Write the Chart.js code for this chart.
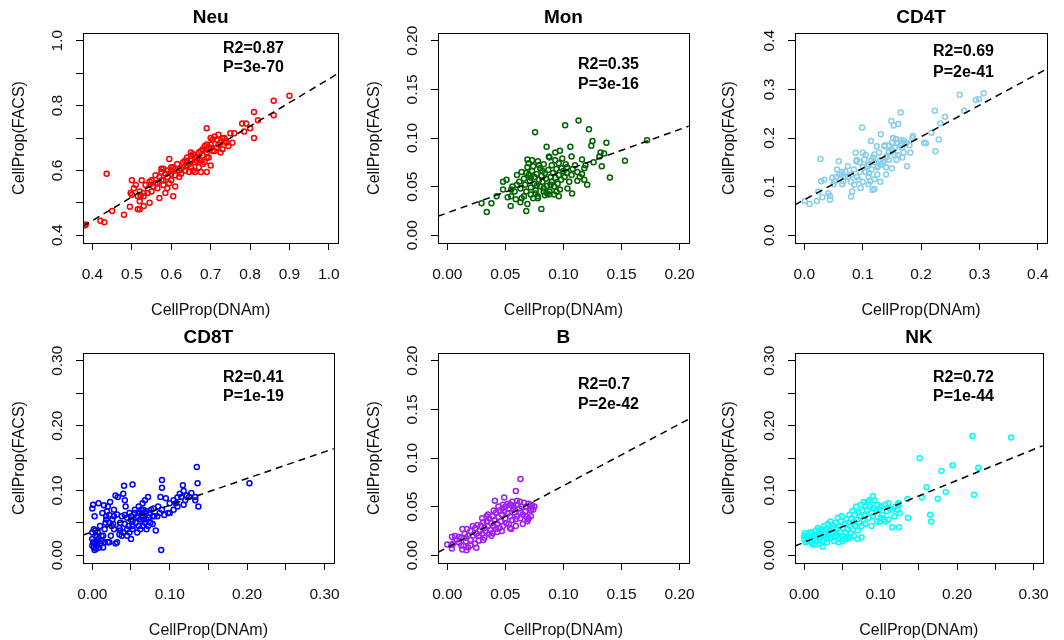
<!DOCTYPE html>
<html>
<head>
<meta charset="utf-8">
<script src="https://cdn.jsdelivr.net/npm/chart.js@4.4.1/dist/chart.umd.min.js"></script>
<style>
  html, body { margin: 0; padding: 0; background: #fff; }
  #grid { position: relative; width: 1064px; height: 640px; }
  #grid canvas { position: absolute; }
</style>
</head>
<body>
<div id="grid"></div>
<script>
// ---- Data ----
const panelTitles = ['Neu', 'Mon', 'CD4T', 'CD8T', 'B', 'NK'];
const r2Labels = ['R2=0.87', 'R2=0.35', 'R2=0.69', 'R2=0.41', 'R2=0.7', 'R2=0.72'];
const pLabels = ['P=3e-70', 'P=3e-16', 'P=2e-41', 'P=1e-19', 'P=2e-42', 'P=1e-44'];

// regression lines [intercept, slope]
const fitLines = [[0.154, 0.728], [0.023, 0.429], [0.073, 0.648], [0.036, 0.412], [0.008, 0.635], [0.020, 0.4775]];

// axis ticks and labels
const neuTicks = [0.4, 0.5, 0.6, 0.7, 0.8, 0.9, 1.0];
const neuXLabels = ['0.4', '0.5', '0.6', '0.7', '0.8', '0.9', '1.0'];
const neuYLabels = ['0.4', '', '0.6', '', '0.8', '', '1.0'];
const smallTicks = [0, 0.05, 0.10, 0.15, 0.20];
const smallLabels = ['0.00', '0.05', '0.10', '0.15', '0.20'];
const cd4Ticks = [0, 0.1, 0.2, 0.3, 0.4];
const cd4Labels = ['0.0', '0.1', '0.2', '0.3', '0.4'];
const wideTicks = [0, 0.05, 0.10, 0.15, 0.20, 0.25, 0.30];
const wideLabels = ['0.00', '', '0.10', '', '0.20', '', '0.30'];

// CellProp(DNAm), CellProp(FACS)
const neuPoints = [[0.38,0.43],[0.383,0.433],[0.42,0.445],[0.43,0.44],[0.436,0.59],[0.45,0.475],[0.48,0.463],[0.495,0.488],[0.497,0.53],[0.50,0.525],[0.50,0.57],[0.505,0.545],[0.51,0.555],[0.515,0.52],[0.515,0.48],[0.52,0.48],[0.52,0.535],[0.522,0.52],[0.525,0.57],[0.53,0.53],[0.53,0.49],[0.535,0.555],[0.54,0.53],[0.545,0.565],[0.545,0.50],[0.55,0.57],[0.555,0.55],[0.56,0.56],[0.565,0.545],[0.57,0.58],[0.57,0.515],[0.575,0.605],[0.575,0.57],[0.58,0.605],[0.58,0.555],[0.585,0.59],[0.585,0.53],[0.59,0.58],[0.59,0.545],[0.595,0.635],[0.595,0.56],[0.60,0.60],[0.60,0.57],[0.605,0.52],[0.605,0.61],[0.61,0.585],[0.61,0.55],[0.615,0.62],[0.62,0.60],[0.62,0.58],[0.625,0.59],[0.63,0.625],[0.635,0.63],[0.635,0.60],[0.64,0.615],[0.64,0.64],[0.645,0.595],[0.645,0.62],[0.65,0.645],[0.65,0.63],[0.655,0.60],[0.655,0.65],[0.66,0.625],[0.66,0.595],[0.665,0.64],[0.67,0.61],[0.67,0.655],[0.675,0.63],[0.675,0.595],[0.68,0.645],[0.68,0.665],[0.685,0.625],[0.685,0.675],[0.69,0.655],[0.69,0.595],[0.69,0.73],[0.695,0.67],[0.695,0.64],[0.70,0.68],[0.70,0.615],[0.705,0.66],[0.705,0.695],[0.71,0.705],[0.715,0.67],[0.72,0.71],[0.72,0.68],[0.725,0.655],[0.73,0.70],[0.73,0.665],[0.735,0.69],[0.74,0.685],[0.745,0.675],[0.75,0.715],[0.755,0.685],[0.76,0.715],[0.78,0.745],[0.785,0.72],[0.79,0.745],[0.80,0.73],[0.81,0.70],[0.81,0.78],[0.82,0.755],[0.86,0.815],[0.86,0.77],[0.90,0.83],[0.56,0.585],[0.565,0.56],[0.60,0.59],[0.61,0.605],[0.625,0.605],[0.64,0.63],[0.65,0.61],[0.66,0.64],[0.67,0.635],[0.68,0.62],[0.69,0.665],[0.69,0.68],[0.70,0.67],[0.715,0.695],[0.725,0.685],[0.735,0.70],[0.58,0.57],[0.59,0.60],[0.60,0.61],[0.55,0.535],[0.53,0.52],[0.52,0.505],[0.545,0.555],[0.575,0.595],[0.63,0.61],[0.65,0.655],[0.665,0.63],[0.69,0.64],[0.71,0.66],[0.70,0.70],[0.675,0.66]];

const monPoints = [[0.113,0.118],[0.1015,0.113],[0.122,0.109],[0.0756,0.106],[0.125,0.097],[0.124,0.092],[0.137,0.095],[0.172,0.0976],[0.106,0.091],[0.0855,0.091],[0.153,0.0765],[0.140,0.0595],[0.1205,0.052],[0.081,0.027],[0.068,0.025],[0.034,0.024],[0.0295,0.033],[0.038,0.033],[0.0425,0.040],[0.048,0.055],[0.051,0.057],[0.0546,0.030],[0.048,0.047],[0.052,0.039],[0.055,0.040],[0.059,0.037],[0.063,0.034],[0.069,0.032],[0.132,0.085],[0.131,0.081],[0.135,0.084],[0.133,0.071],[0.126,0.075],[0.119,0.072],[0.116,0.078],[0.107,0.081],[0.097,0.087],[0.093,0.085],[0.0875,0.081],[0.107,0.062],[0.103,0.064],[0.0985,0.069],[0.1035,0.048],[0.1075,0.043],[0.118,0.057],[0.112,0.056],[0.096,0.040],[0.092,0.042],[0.0877,0.042],[0.083,0.045],[0.078,0.040],[0.078,0.038],[0.060,0.062],[0.062,0.055],[0.063,0.048],[0.064,0.065],[0.066,0.058],[0.067,0.052],[0.068,0.045],[0.069,0.078],[0.070,0.074],[0.070,0.062],[0.071,0.056],[0.072,0.049],[0.072,0.042],[0.073,0.066],[0.074,0.071],[0.075,0.060],[0.075,0.053],[0.076,0.046],[0.077,0.063],[0.078,0.076],[0.079,0.057],[0.080,0.050],[0.080,0.069],[0.081,0.061],[0.082,0.055],[0.083,0.073],[0.084,0.064],[0.085,0.058],[0.086,0.051],[0.087,0.067],[0.088,0.045],[0.089,0.060],[0.090,0.055],[0.090,0.072],[0.091,0.064],[0.092,0.050],[0.093,0.059],[0.094,0.068],[0.095,0.053],[0.096,0.062],[0.097,0.047],[0.098,0.057],[0.100,0.066],[0.101,0.060],[0.103,0.070],[0.105,0.055],[0.108,0.068],[0.110,0.072],[0.112,0.065],[0.114,0.060],[0.116,0.063],[0.118,0.069],[0.066,0.040],[0.064,0.038],[0.058,0.045],[0.056,0.050],[0.055,0.047],[0.074,0.038],[0.086,0.043],[0.094,0.045],[0.060,0.052],[0.069,0.070],[0.077,0.051],[0.083,0.048],[0.089,0.052],[0.072,0.059],[0.068,0.064],[0.082,0.066],[0.096,0.074],[0.099,0.079],[0.102,0.073],[0.093,0.077],[0.088,0.080],[0.079,0.072],[0.073,0.077],[0.076,0.043],[0.084,0.041]];

const cd4Points = [[0.001,0.0706],[0.009,0.064],[0.0215,0.0706],[0.024,0.090],[0.0276,0.157],[0.031,0.078],[0.029,0.111],[0.034,0.114],[0.041,0.0865],[0.044,0.073],[0.0436,0.081],[0.048,0.118],[0.052,0.111],[0.056,0.135],[0.059,0.152],[0.0645,0.1246],[0.067,0.111],[0.070,0.131],[0.0745,0.142],[0.080,0.0796],[0.082,0.090],[0.0855,0.104],[0.088,0.1695],[0.089,0.152],[0.093,0.114],[0.0965,0.097],[0.099,0.2215],[0.1004,0.1695],[0.103,0.156],[0.1075,0.142],[0.111,0.128],[0.113,0.111],[0.114,0.194],[0.117,0.093],[0.12,0.166],[0.124,0.183],[0.126,0.142],[0.131,0.2076],[0.1335,0.145],[0.137,0.183],[0.141,0.163],[0.1445,0.173],[0.149,0.235],[0.150,0.138],[0.153,0.2255],[0.157,0.198],[0.161,0.229],[0.165,0.2526],[0.167,0.180],[0.172,0.190],[0.176,0.142],[0.1815,0.1695],[0.186,0.204],[0.205,0.190],[0.208,0.189],[0.218,0.211],[0.2245,0.173],[0.2235,0.256],[0.230,0.197],[0.233,0.230],[0.241,0.2436],[0.266,0.289],[0.274,0.256],[0.2935,0.278],[0.299,0.280],[0.307,0.292],[0.06,0.125],[0.065,0.13],[0.07,0.12],[0.075,0.12],[0.08,0.125],[0.085,0.135],[0.09,0.155],[0.095,0.13],[0.10,0.14],[0.105,0.13],[0.11,0.12],[0.115,0.135],[0.12,0.15],[0.125,0.14],[0.13,0.145],[0.135,0.15],[0.14,0.16],[0.145,0.17],[0.15,0.175],[0.155,0.18],[0.16,0.19],[0.165,0.185],[0.17,0.17],[0.175,0.19],[0.18,0.185],[0.12,0.115],[0.11,0.105],[0.125,0.125],[0.13,0.155],[0.14,0.14],[0.145,0.155],[0.155,0.165],[0.16,0.165],[0.165,0.195],[0.17,0.195],[0.185,0.2],[0.11,0.145],[0.10,0.11],[0.09,0.12],[0.08,0.11],[0.05,0.105],[0.055,0.12],[0.065,0.105],[0.118,0.16],[0.128,0.17],[0.138,0.185],[0.15,0.19],[0.158,0.155],[0.168,0.16],[0.115,0.155],[0.105,0.165],[0.095,0.15],[0.12,0.095],[0.13,0.11],[0.14,0.125],[0.145,0.185],[0.152,0.2]];

const cd8Points = [[0.135,0.136],[0.136,0.111],[0.203,0.111],[0.137,0.075],[0.09,0.116],[0.09,0.104],[0.052,0.109],[0.041,0.107],[0.089,0.008],[0.117,0.108],[0.133,0.085],[0.133,0.09],[0.128,0.096],[0.122,0.092],[0.118,0.099],[0.115,0.09],[0.11,0.089],[0.105,0.085],[0.10,0.08],[0.095,0.088],[0.088,0.09],[0.085,0.075],[0.09,0.07],[0.093,0.062],[0.098,0.065],[0.105,0.07],[0.11,0.075],[0.118,0.078],[0.12,0.085],[0.082,0.038],[0.078,0.06],[0.075,0.05],[0.07,0.055],[0.072,0.09],[0.068,0.085],[0.065,0.08],[0.063,0.07],[0.06,0.065],[0.058,0.06],[0.056,0.05],[0.052,0.045],[0.05,0.055],[0.048,0.065],[0.045,0.04],[0.043,0.075],[0.042,0.085],[0.04,0.095],[0.038,0.06],[0.036,0.05],[0.035,0.042],[0.033,0.09],[0.03,0.092],[0.028,0.07],[0.026,0.055],[0.025,0.045],[0.023,0.082],[0.022,0.062],[0.02,0.075],[0.018,0.06],[0.017,0.05],[0.016,0.04],[0.015,0.077],[0.013,0.065],[0.012,0.03],[0.01,0.045],[0.008,0.08],[0.007,0.036],[0.006,0.02],[0.005,0.01],[0.004,0.03],[0.003,0.06],[0.002,0.04],[0.001,0.078],[0.0,0.072],[0.0,0.035],[0.0,0.025],[0.0,0.015],[0.001,0.02],[0.002,0.012],[0.003,0.018],[0.004,0.038],[0.006,0.015],[0.008,0.025],[0.01,0.018],[0.012,0.022],[0.014,0.03],[0.016,0.02],[0.02,0.02],[0.024,0.03],[0.03,0.018],[0.032,0.02],[0.038,0.03],[0.04,0.035],[0.045,0.03],[0.048,0.035],[0.052,0.04],[0.055,0.065],[0.06,0.045],[0.062,0.055],[0.065,0.06],[0.068,0.065],[0.07,0.068],[0.073,0.058],[0.076,0.07],[0.08,0.06],[0.084,0.06],[0.065,0.045],[0.07,0.04],[0.058,0.035],[0.05,0.025],[0.032,0.063],[0.027,0.048],[0.022,0.05],[0.018,0.055],[0.045,0.058],[0.05,0.06],[0.055,0.07],[0.06,0.075],[0.066,0.07],[0.068,0.05],[0.072,0.045],[0.078,0.048],[0.062,0.04],[0.064,0.065],[0.052,0.052],[0.042,0.048],[0.036,0.038],[0.028,0.04],[0.047,0.045],[0.059,0.058],[0.066,0.055],[0.028,0.06],[0.019,0.068],[0.042,0.062],[0.074,0.065],[0.079,0.072],[0.087,0.065],[0.10,0.065],[0.108,0.08],[0.125,0.09],[0.113,0.095],[0.006,0.028],[0.003,0.008],[0.009,0.012],[0.014,0.012],[0.022,0.02],[0.035,0.032]];

const bPoints = [[0.063,0.0785],[0.059,0.066],[0.049,0.0595],[0.041,0.056],[0.0,0.011],[0.0036,0.0104],[0.004,0.019],[0.0066,0.0197],[0.004,0.007],[0.013,0.027],[0.0166,0.005],[0.025,0.0076],[0.031,0.0156],[0.0337,0.040],[0.039,0.0225],[0.043,0.024],[0.054,0.028],[0.059,0.037],[0.0695,0.037],[0.068,0.040],[0.072,0.046],[0.075,0.050],[0.072,0.052],[0.0626,0.055],[0.054,0.052],[0.0474,0.048],[0.057,0.047],[0.005,0.012],[0.008,0.016],[0.01,0.013],[0.012,0.018],[0.014,0.01],[0.015,0.022],[0.016,0.014],[0.018,0.02],[0.02,0.016],[0.02,0.025],[0.022,0.02],[0.024,0.028],[0.025,0.022],[0.026,0.031],[0.028,0.025],[0.029,0.03],[0.03,0.022],[0.031,0.034],[0.032,0.028],[0.033,0.025],[0.034,0.035],[0.035,0.03],[0.036,0.038],[0.037,0.026],[0.038,0.033],[0.039,0.04],[0.04,0.03],[0.041,0.036],[0.042,0.044],[0.043,0.032],[0.044,0.039],[0.045,0.046],[0.045,0.028],[0.046,0.035],[0.047,0.042],[0.048,0.03],[0.049,0.045],[0.05,0.038],[0.05,0.05],[0.051,0.033],[0.052,0.043],[0.053,0.048],[0.054,0.04],[0.055,0.052],[0.056,0.036],[0.057,0.05],[0.058,0.044],[0.06,0.052],[0.06,0.04],[0.062,0.048],[0.064,0.05],[0.065,0.042],[0.066,0.054],[0.068,0.05],[0.07,0.053],[0.071,0.048],[0.073,0.051],[0.074,0.047],[0.069,0.035],[0.067,0.045],[0.063,0.038],[0.059,0.03],[0.055,0.027],[0.047,0.025],[0.042,0.027],[0.036,0.022],[0.032,0.018],[0.027,0.015],[0.024,0.012],[0.018,0.008],[0.013,0.006],[0.01,0.019],[0.017,0.027],[0.022,0.03],[0.03,0.038],[0.035,0.042],[0.04,0.046],[0.044,0.05],[0.048,0.052],[0.052,0.053],[0.056,0.055],[0.06,0.056],[0.038,0.02],[0.053,0.032],[0.063,0.044],[0.072,0.04],[0.07,0.038],[0.065,0.032],[0.027,0.02],[0.02,0.01],[0.016,0.018],[0.012,0.01]];

const nkPoints = [[0.220,0.184],[0.2706,0.1817],[0.151,0.1495],[0.1796,0.130],[0.194,0.139],[0.2276,0.135],[0.222,0.0934],[0.185,0.0976],[0.1746,0.087],[0.160,0.105],[0.154,0.089],[0.1647,0.0623],[0.166,0.052],[0.1357,0.058],[0.135,0.0867],[0.123,0.080],[0.124,0.043],[0.115,0.043],[0.106,0.052],[0.099,0.052],[0.0898,0.0908],[0.075,0.0275],[0.0244,0.013],[0.011,0.017],[0.0,0.03],[0.0,0.025],[0.001,0.034],[0.002,0.02],[0.003,0.028],[0.004,0.022],[0.005,0.032],[0.007,0.027],[0.008,0.03],[0.009,0.02],[0.01,0.035],[0.012,0.025],[0.013,0.03],[0.015,0.038],[0.016,0.022],[0.017,0.032],[0.018,0.042],[0.019,0.027],[0.02,0.035],[0.021,0.025],[0.022,0.04],[0.023,0.03],[0.024,0.022],[0.025,0.036],[0.026,0.045],[0.027,0.028],[0.028,0.033],[0.029,0.04],[0.03,0.025],[0.031,0.048],[0.032,0.03],[0.033,0.038],[0.034,0.052],[0.035,0.027],[0.036,0.042],[0.037,0.033],[0.038,0.046],[0.039,0.022],[0.04,0.036],[0.041,0.05],[0.042,0.03],[0.043,0.04],[0.044,0.058],[0.045,0.025],[0.046,0.045],[0.047,0.035],[0.048,0.052],[0.049,0.06],[0.05,0.03],[0.051,0.042],[0.052,0.025],[0.053,0.048],[0.054,0.035],[0.055,0.055],[0.056,0.04],[0.057,0.028],[0.058,0.05],[0.059,0.062],[0.06,0.045],[0.061,0.033],[0.062,0.057],[0.063,0.068],[0.064,0.04],[0.065,0.052],[0.066,0.062],[0.067,0.045],[0.068,0.075],[0.069,0.055],[0.07,0.038],[0.071,0.066],[0.072,0.05],[0.073,0.06],[0.074,0.078],[0.075,0.045],[0.076,0.068],[0.077,0.055],[0.078,0.082],[0.079,0.062],[0.08,0.048],[0.082,0.07],[0.083,0.082],[0.084,0.058],[0.086,0.075],[0.088,0.065],[0.09,0.072],[0.092,0.085],[0.094,0.068],[0.096,0.078],[0.098,0.07],[0.10,0.075],[0.102,0.062],[0.104,0.055],[0.106,0.078],[0.108,0.068],[0.11,0.08],[0.112,0.072],[0.115,0.07],[0.12,0.075],[0.122,0.07],[0.125,0.065],[0.123,0.078],[0.118,0.06],[0.014,0.016],[0.03,0.02],[0.045,0.02],[0.05,0.022],[0.06,0.027],[0.065,0.03],[0.07,0.025],[0.055,0.025],[0.04,0.028],[0.02,0.018],[0.008,0.035],[0.088,0.045],[0.095,0.052],[0.10,0.058],[0.11,0.055],[0.09,0.06],[0.085,0.085],[0.08,0.075]];

// ---- Layout / style ----
const FONT = '"Liberation Sans", Arial, Helvetica, sans-serif';
const pointColors = ['#FF0000', '#006400', '#87CEEB', '#0000FF', '#A020F0', '#00FFFF'];
const cellW = [355, 355, 354];
const plotLeft = [83, 83, 85];
const plotRight = 345;
const plotTop = 33;
const plotBottom = 243;
const cellH = 320;
const annoY = [[49, 68], [65, 85], [52, 73], [58, 77], [65, 85], [58, 77]];

const panels = [
    { points: neuPoints, xTicks: neuTicks, xLabels: neuXLabels, yTicks: neuTicks, yLabels: neuYLabels },
    { points: monPoints, xTicks: smallTicks, xLabels: smallLabels, yTicks: smallTicks, yLabels: smallLabels },
    { points: cd4Points, xTicks: cd4Ticks, xLabels: cd4Labels, yTicks: cd4Ticks, yLabels: cd4Labels },
    { points: cd8Points, xTicks: wideTicks, xLabels: wideLabels, yTicks: wideTicks, yLabels: wideLabels },
    { points: bPoints, xTicks: smallTicks, xLabels: smallLabels, yTicks: smallTicks, yLabels: smallLabels },
    { points: nkPoints, xTicks: wideTicks, xLabels: wideLabels, yTicks: wideTicks, yLabels: wideLabels }
];

// R pads the axis range by 4% on each side
function paddedRange(ticks) {
    const lo = ticks[0], hi = ticks[ticks.length - 1];
    const pad = (hi - lo) * 0.04;
    return [lo - pad, hi + pad];
}

// box, title, rotated y labels, R2/P text
const panelDecor = {
    id: 'panelDecor',
    afterDraw(chart, args, opts) {
        const ctx = chart.ctx;
        const area = chart.chartArea;
        const yScale = chart.scales.y;
        ctx.save();
        ctx.strokeStyle = '#000';
        ctx.lineWidth = 1;
        ctx.strokeRect(Math.round(area.left) + 0.5, Math.round(area.top) + 0.5,
            Math.round(area.right - area.left), Math.round(area.bottom - area.top));

        ctx.fillStyle = '#000';
        ctx.font = 'bold 19px ' + FONT;
        ctx.textAlign = 'center';
        ctx.textBaseline = 'middle';
        ctx.fillText(opts.title, (area.left + area.right) / 2, 18);

        ctx.fillStyle = '#111';
        ctx.font = '15.5px ' + FONT;
        opts.yTicks.forEach((v, i) => {
            if (!opts.yLabels[i]) return;
            ctx.save();
            ctx.translate(area.left - 25, yScale.getPixelForValue(v));
            ctx.rotate(-Math.PI / 2);
            ctx.fillText(opts.yLabels[i], 0, 0);
            ctx.restore();
        });

        ctx.fillStyle = '#000';
        ctx.font = 'bold 16px ' + FONT;
        ctx.textAlign = 'left';
        ctx.fillText(opts.r2, 223, opts.annoY[0]);
        ctx.fillText(opts.p, 223, opts.annoY[1]);
        ctx.restore();
    }
};

function buildPanel(i) {
    const col = i % 3, row = Math.floor(i / 3);
    const panel = panels[i];
    const canvas = document.createElement('canvas');
    canvas.width = cellW[col];
    canvas.height = cellH;
    canvas.style.left = (col * 355) + 'px';
    canvas.style.top = (row * cellH) + 'px';
    document.getElementById('grid').appendChild(canvas);

    const [xMin, xMax] = paddedRange(panel.xTicks);
    const [yMin, yMax] = paddedRange(panel.yTicks);
    const [a, b] = fitLines[i];

    new Chart(canvas.getContext('2d'), {
        type: 'scatter',
        data: {
            datasets: [{
                // dashed fit line, listed first so it is drawn over the points
                type: 'line',
                data: [{ x: xMin, y: a + b * xMin }, { x: xMax, y: a + b * xMax }],
                borderColor: '#000',
                borderWidth: 1.5,
                borderDash: [7, 5],
                pointRadius: 0,
                fill: false
            }, {
                data: panel.points.map(p => ({ x: p[0], y: p[1] })),
                pointStyle: 'circle',
                pointRadius: 2.5,
                borderWidth: 1.5,
                borderColor: pointColors[i],
                backgroundColor: 'rgba(0,0,0,0)'
            }]
        },
        options: {
            responsive: false,
            animation: false,
            events: [],
            layout: { padding: { top: plotTop, right: cellW[col] - plotRight, left: 0, bottom: 0 } },
            scales: {
                x: {
                    type: 'linear',
                    min: xMin,
                    max: xMax,
                    afterBuildTicks: (scale) => { scale.ticks = panel.xTicks.map(v => ({ value: v })); },
                    afterFit: (scale) => { scale.height = cellH - plotBottom; },
                    grid: { drawOnChartArea: false, drawTicks: true, tickLength: 7, color: '#000', lineWidth: 1 },
                    border: { display: true, color: '#000', width: 1 },
                    ticks: {
                        autoSkip: false,
                        maxRotation: 0,
                        padding: 15,
                        color: '#111',
                        font: { family: FONT, size: 15.5 },
                        callback: (value, idx) => panel.xLabels[idx]
                    },
                    title: {
                        display: true,
                        text: 'CellProp(DNAm)',
                        color: '#111',
                        font: { family: FONT, size: 16 },
                        padding: { top: 0, bottom: 0 }
                    }
                },
                y: {
                    type: 'linear',
                    min: yMin,
                    max: yMax,
                    afterBuildTicks: (scale) => { scale.ticks = panel.yTicks.map(v => ({ value: v })); },
                    afterFit: (scale) => { scale.width = plotLeft[col]; },
                    grid: { drawOnChartArea: false, drawTicks: true, tickLength: 7, color: '#000', lineWidth: 1 },
                    border: { display: true, color: '#000', width: 1 },
                    ticks: { display: false },
                    title: {
                        display: true,
                        text: 'CellProp(FACS)',
                        color: '#111',
                        font: { family: FONT, size: 16 },
                        padding: { top: 10, bottom: 0 }
                    }
                }
            },
            plugins: {
                legend: { display: false },
                tooltip: { enabled: false },
                panelDecor: {
                    title: panelTitles[i],
                    r2: r2Labels[i],
                    p: pLabels[i],
                    annoY: annoY[i],
                    yTicks: panel.yTicks,
                    yLabels: panel.yLabels
                }
            }
        },
        plugins: [panelDecor]
    });
}

panels.forEach((p, i) => buildPanel(i));
</script>
</body>
</html>
